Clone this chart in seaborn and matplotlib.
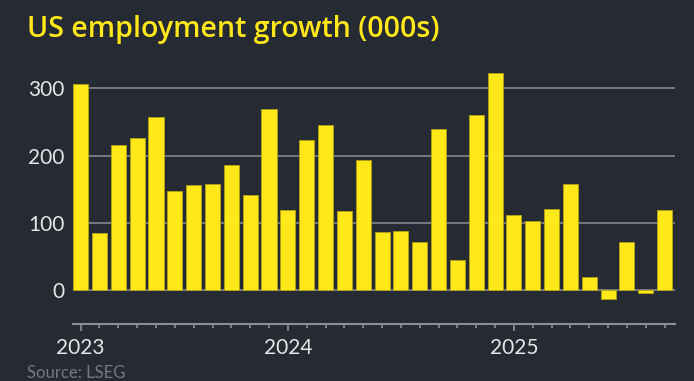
import pandas as pd
import matplotlib.pyplot as plt
import seaborn as sns

# Monthly change in US nonfarm payrolls, thousands (Feb 2023 - Sep 2025)
months = [p.strftime('%Y-%m') for p in pd.period_range('2023-02', '2025-09', freq='M')]
jobs = [306, 85, 216, 227, 257, 148, 157, 158, 186, 141, 269, 119,
        223, 246, 118, 193, 87, 88, 71, 240, 44, 261, 323,
        111, 102, 120, 158, 19, -13, 72, -4, 119]
year_labels = ['2023', '2024', '2025']
year_pos = [0, 11, 23]

bg = '#262a33'
yellow = '#ffe81a'
grid_col = '#8e8f94'

sns.set_style('dark')
plt.rcParams['font.family'] = ['Lato', 'DejaVu Sans']

data = pd.DataFrame({'month': months, 'jobs': jobs})

fig = plt.figure(figsize=(6.94, 3.81), dpi=100, facecolor=bg)
ax = fig.add_axes([0.1048, 0.1509, 0.8678, 0.6785])
ax.set_facecolor(bg)

sns.barplot(data=data, x='month', y='jobs', color=yellow, saturation=1,
            width=0.8, edgecolor='#b3a412', linewidth=0.6, ax=ax, zorder=3)

# grid lines
for v in [0, 100, 200, 300]:
    ax.axhline(v, color=grid_col, lw=1.1, zorder=1)

ax.set_xlim(-0.42, 31.55)
ax.set_ylim(-50, 335)
ax.set_yticks([0, 100, 200, 300])
ax.tick_params(axis='y', left=False, length=0, pad=6, labelsize=15, labelcolor='#e6e6e6')

ax.set_xticks(year_pos)
ax.set_xticklabels(year_labels)
ax.set_xticks([i for i in range(len(months)) if i not in year_pos], minor=True)
ax.tick_params(axis='x', which='major', bottom=True, length=5, width=1.2, color=grid_col,
               direction='out', pad=5.5, labelsize=15, labelcolor='#e6e6e6')
ax.tick_params(axis='x', which='minor', bottom=True, length=3, width=1.2, color=grid_col,
               direction='out')

for s in ['top', 'right', 'left']:
    ax.spines[s].set_visible(False)
ax.spines['bottom'].set_color(grid_col)
ax.spines['bottom'].set_linewidth(1.5)
ax.set_xlabel('')
ax.set_ylabel('')
ax.grid(False)

fig.text(0.039, 0.904, 'US employment growth (000s)', color=yellow,
         fontsize=20.6, fontweight='semibold', family=['Open Sans', 'DejaVu Sans'],
         va='baseline')
fig.text(0.039, 0.008, 'Source: LSEG', color='#77787c', fontsize=12, va='baseline')

fig.savefig('out.png', dpi=100, facecolor=bg)
